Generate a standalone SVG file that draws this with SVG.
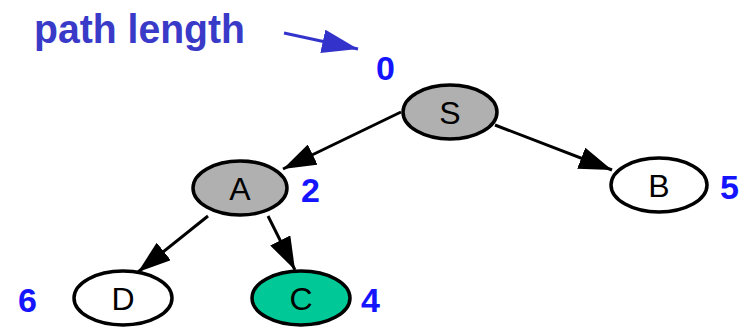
<svg xmlns="http://www.w3.org/2000/svg" width="750" height="329" viewBox="0 0 750 329">
<defs>
<style>
.node{stroke:#000;stroke-width:3.5}
.gray{fill:#b0b0b0}
.white{fill:#fff}
.green{fill:#00c896}
.lbl{font-family:"Liberation Sans",Arial,sans-serif;font-size:32px;fill:#000;text-anchor:middle}
.num{font-family:"Liberation Sans",Arial,sans-serif;font-size:34px;font-weight:bold;fill:#1414ff}
.edge{stroke:#000;stroke-width:3;fill:none;marker-end:url(#ah)}
</style>
<marker id="ah" markerWidth="11" markerHeight="7.5" refX="11" refY="3.75" orient="auto" markerUnits="strokeWidth">
<path d="M0,0 L11,3.75 L0,7.5 Z" fill="#000"/>
</marker>
<marker id="bh" markerWidth="12" markerHeight="8" refX="12" refY="4" orient="auto" markerUnits="strokeWidth">
<path d="M0,0 L12,4 L0,8 Z" fill="#3333cc"/>
</marker>
</defs>
<rect width="750" height="329" fill="#fff"/>
<g id="title">
<text x="34" y="43" font-family="Liberation Sans,Arial,sans-serif" font-size="41" font-weight="bold" fill="#3a3ac8" textLength="211" lengthAdjust="spacingAndGlyphs">path length</text>
<line x1="284" y1="33" x2="358" y2="49" stroke="#3333cc" stroke-width="3" marker-end="url(#bh)"/>
</g>
<g id="connectors">
<line class="edge" x1="401" y1="112" x2="283" y2="169"/>
<line class="edge" x1="495" y1="125" x2="612" y2="170"/>
<line class="edge" x1="208" y1="216" x2="138" y2="272"/>
<line class="edge" x1="268" y1="216" x2="295" y2="270"/>
</g>
<g id="S">
<ellipse class="node gray" cx="450" cy="112" rx="47" ry="27"/>
<text class="lbl" x="450" y="124">S</text>
<text class="num" x="376" y="80">0</text>
</g>
<g id="A">
<ellipse class="node gray" cx="240" cy="188" rx="47" ry="27"/>
<text class="lbl" x="240" y="200">A</text>
<text class="num" x="301" y="202">2</text>
</g>
<g id="B">
<ellipse class="node white" cx="659" cy="185" rx="48" ry="27"/>
<text class="lbl" x="659" y="197">B</text>
<text class="num" x="720" y="199">5</text>
</g>
<g id="D">
<ellipse class="node white" cx="123" cy="298" rx="49" ry="27"/>
<text class="lbl" x="123" y="310">D</text>
<text class="num" x="18" y="312">6</text>
</g>
<g id="C">
<ellipse class="node green" cx="301" cy="298" rx="49" ry="27"/>
<text class="lbl" x="301" y="310">C</text>
<text class="num" x="361" y="312">4</text>
</g>
</svg>
